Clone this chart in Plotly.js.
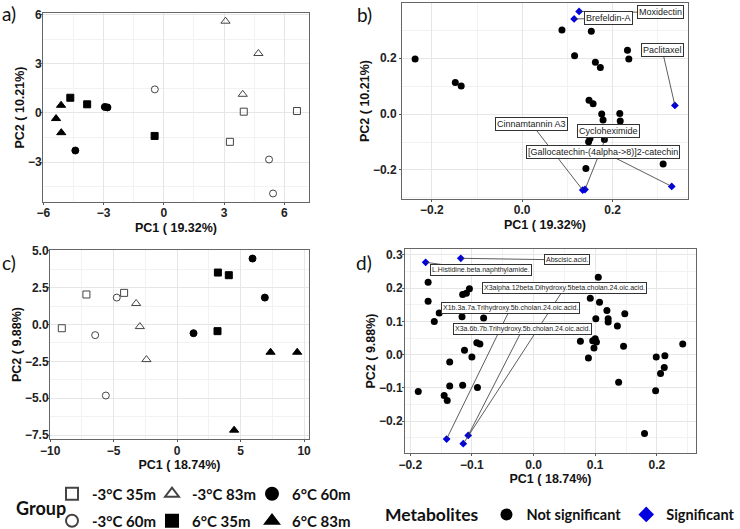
<!DOCTYPE html>
<html>
<head>
<meta charset="utf-8">
<script src="https://cdn.plot.ly/plotly-3.0.1.min.js"></script>
<style>
  body { margin: 0; background: #fff; }
  #chart { width: 740px; height: 529px; }
</style>
</head>
<body>
<div id="chart"></div>
<script>
// ---- data ----
// groups (same order in panels a and c)
const groupNames = ["-3°C 35m", "-3°C 83m", "6°C 60m", "-3°C 60m", "6°C 35m", "6°C 83m"];

// a) PCA scores, PC1 (19.32%) / PC2 (10.21%)
const aX = [
  [3.98, 6.63, 3.29],
  [3.07, 4.71, 3.93],
  [-2.94, -2.81, -4.41],
  [-0.45, 5.24, 5.44],
  [-4.66, -3.82, -0.46],
  [-5.12, -5.37, -5.11]
];
const aY = [
  [0.08, 0.12, -1.76],
  [5.6, 3.63, 1.14],
  [0.37, 0.34, -2.29],
  [1.44, -2.84, -4.91],
  [0.93, 0.53, -1.4],
  [0.47, -0.34, -1.2]
];

// c) PCA scores, PC1 (18.74%) / PC2 (9.88%)
const cX = [
  [-7.15, -4.18, -9.09],
  [-3.23, -2.94, -2.42],
  [5.94, 6.91, 1.29],
  [-4.76, -6.46, -5.62],
  [3.21, 4.07, 3.18],
  [7.36, 9.46, 4.49]
];
const cY = [
  [2.04, 2.15, -0.25],
  [1.43, -0.14, -2.38],
  [4.48, 1.83, -0.59],
  [1.83, -0.72, -4.82],
  [3.53, 3.35, -0.45],
  [-1.88, -1.88, -7.17]
];

// b) loadings
const bNsX = [-0.237, -0.148, -0.135, 0.088, 0.153, 0.116, 0.162, 0.173, 0.233, 0.236,
  0.148, 0.157, 0.176, 0.179, 0.216, 0.217, 0.150, 0.147, 0.182, 0.141, 0.312];
const bNsY = [0.197, 0.113, 0.101, 0.301, 0.297, 0.209, 0.186, 0.167, 0.229, 0.197,
  0.050, 0.037, 0.0, -0.021, 0.002, -0.025, -0.087, -0.099, -0.091, -0.195, -0.179];
const bSigNames = ["Moxidectin", "Brefeldin-A", "Paclitaxel", "Cinnamtannin A3", "Cycloheximide",
  "[Gallocatechin-(4alpha->8)]2-catechin"];
const bSigX = [0.126, 0.115, 0.338, 0.134, 0.139, 0.331];
const bSigY = [0.368, 0.341, 0.031, -0.272, -0.270, -0.259];

// d) loadings
const dNsX = [-0.171, -0.171, -0.161, -0.153, -0.116, -0.115, -0.109, -0.104, -0.116, -0.081,
  -0.112, -0.100, -0.092, -0.087, -0.136, -0.187, -0.145, -0.140, -0.136, -0.115, -0.091,
  0.105, 0.092, 0.107, 0.101, 0.119, 0.121, 0.121, 0.148, 0.136, 0.076, 0.096, 0.100,
  0.102, 0.098, 0.089, 0.146, 0.138, 0.242, 0.199, 0.213, 0.212, 0.206, 0.198, 0.180];
const dNsY = [0.218, 0.161, 0.100, 0.125, 0.133, 0.181, 0.185, 0.198, 0.114, 0.110,
  0.013, -0.007, 0.036, 0.032, -0.022, -0.111, -0.123, -0.138, -0.094, -0.092, -0.099,
  0.233, 0.170, 0.158, 0.108, 0.133, 0.108, 0.098, 0.123, 0.086, 0.040, 0.042, 0.048,
  0.038, 0.020, -0.010, 0.025, -0.083, 0.032, -0.007, -0.003, -0.039, -0.057, -0.109, -0.237];
const dSigNames = ["Abscisic.acid.", "L.Histidine.beta.naphthylamide.",
  "X3alpha.12beta.Dihydroxy.5beta.cholan.24.oic.acid.",
  "X1b.3a.7a.Trihydroxy.5b.cholan.24.oic.acid.",
  "X3a.6b.7b.Trihydroxy.5b.cholan.24.oic.acid."];
const dSigX = [-0.118, -0.175, -0.114, -0.141, -0.106];
const dSigY = [0.290, 0.278, -0.268, -0.254, -0.243];

// ---- styling ----
const symbols = ["square-open", "triangle-up-open", "circle", "circle-open", "square", "triangle-up"];
const symSize = [7, 8, 7, 7, 7, 8];
const grpLegend = ["legend", "legend", "legend", "legend2", "legend2", "legend2"];

const traces = [];
groupNames.forEach((name, i) => {
  const open = symbols[i].endsWith("open");
  const marker = {
    symbol: symbols[i], size: symSize[i],
    color: open ? "#444" : "#000",
    line: { color: open ? "#444" : "#000", width: 1 }
  };
  traces.push({ x: aX[i], y: aY[i], xaxis: "x", yaxis: "y", type: "scatter", mode: "markers",
    name: name, marker: marker, legend: grpLegend[i], showlegend: true });
  traces.push({ x: cX[i], y: cY[i], xaxis: "x3", yaxis: "y3", type: "scatter", mode: "markers",
    name: name, marker: marker, showlegend: false });
});

const nsMarker = { symbol: "circle", size: 7, color: "#000" };
const sigMarker = { symbol: "diamond", size: 6, color: "#0000e0" };
traces.push({ x: bNsX, y: bNsY, xaxis: "x2", yaxis: "y2", type: "scatter", mode: "markers",
  name: "Not significant", marker: nsMarker, legend: "legend3" });
traces.push({ x: bSigX, y: bSigY, xaxis: "x2", yaxis: "y2", type: "scatter", mode: "markers",
  name: "Significant", marker: sigMarker, legend: "legend3" });
traces.push({ x: dNsX, y: dNsY, xaxis: "x4", yaxis: "y4", type: "scatter", mode: "markers",
  name: "Not significant", marker: nsMarker, showlegend: false });
traces.push({ x: dSigX, y: dSigY, xaxis: "x4", yaxis: "y4", type: "scatter", mode: "markers",
  name: "Significant", marker: sigMarker, showlegend: false });

// label box centres (data units) for the repelled labels
const bLabelPos = [[0.306, 0.364], [0.191, 0.343], [0.310, 0.229], [0.021, -0.036], [0.191, -0.060], [0.179, -0.135]];
const dLabelPos = [[0.054, 0.285], [-0.085, 0.255], [0.050, 0.200], [-0.037, 0.141], [-0.018, 0.076]];

const annotations = [];
function addLabels(names, xs, ys, pos, xa, ya, size) {
  names.forEach((t, i) => {
    annotations.push({
      text: t, x: xs[i], y: ys[i], xref: xa, yref: ya,
      ax: pos[i][0], ay: pos[i][1], axref: xa, ayref: ya,
      showarrow: true, arrowhead: 0, arrowwidth: 0.8, arrowcolor: "#333", standoff: 0,
      font: { family: "Arial, Liberation Sans", size: size, color: "#222" },
      bgcolor: "#fff", bordercolor: "#333", borderwidth: 1, borderpad: 1
    });
  });
}
addLabels(bSigNames, bSigX, bSigY, bLabelPos, "x2", "y2", 9);
addLabels(dSigNames, dSigX, dSigY, dLabelPos, "x4", "y4", 7);

// panel letters and legend heading
const letterFont = { family: "Lato, Open Sans", size: 19, color: "#111" };
[["a)", 0, 13, "left"], ["b)", 374, 14, "right"], ["c)", 0, 262, "left"], ["d)", 374, 262, "right"]]
  .forEach(([t, px, py, anc]) => {
    annotations.push({ text: t, xref: "paper", yref: "paper", x: px / 740, y: 1 - py / 529,
      xanchor: anc, yanchor: "middle", showarrow: false, font: letterFont });
  });
annotations.push({ text: "Group", xref: "paper", yref: "paper", x: 14 / 740, y: 1 - 508 / 529,
  xanchor: "left", yanchor: "middle", showarrow: false,
  font: { family: "Lato, Open Sans", size: 18, color: "#111", weight: 700 } });

const tickFont = { family: "Arial, Liberation Sans", size: 12, color: "#222", weight: "bold" };
const titleFont = { family: "Arial, Liberation Sans", size: 12.5, color: "#111", weight: "bold" };

function axis(domain, range, dtick, minor, fmt, title, anchor, standoff, labelOff) {
  return {
    domain: domain, range: range, anchor: anchor, autorange: false,
    dtick: dtick, tick0: 0, tickformat: fmt,
    showgrid: true, gridcolor: "#e6e6e6", gridwidth: 1,
    minor: { dtick: minor, tick0: 0, showgrid: true, gridcolor: "#f2f2f2", gridwidth: 1 },
    zeroline: false, showline: true, mirror: true, linecolor: "#666", linewidth: 1,
    ticks: "outside", ticklen: 2, tickcolor: "#555",
    tickfont: tickFont, ticklabelstandoff: labelOff, automargin: false,
    title: { text: title, font: titleFont, standoff: standoff }
  };
}

const legendFont = { family: "Lato, Open Sans", size: 15, color: "#111", weight: 700 };
const legendBase = {
  orientation: "h", xanchor: "left", yanchor: "middle", bgcolor: "rgba(0,0,0,0)",
  font: legendFont, itemsizing: "constant", itemclick: false, itemdoubleclick: false,
  tracegroupgap: 0
};

const layout = {
  width: 740, height: 529,
  margin: { l: 0, r: 0, t: 0, b: 0, autoexpand: false },
  paper_bgcolor: "#fff", plot_bgcolor: "#fff",
  showlegend: true,
  xaxis: axis([43 / 740, 309 / 740], [-6.02, 7.23], 3, 1.5, "d", "PC1 ( 19.32%)", "y", 3, -2),
  yaxis: axis([1 - 202 / 529, 1 - 13 / 529], [-5.43, 6.1], 3, 1.5, "d", "PC2 ( 10.21%)", "x", 0, -4),
  xaxis2: axis([402 / 740, 688 / 740], [-0.266, 0.367], 0.2, 0.1, ".1f", "PC1 ( 19.32%)", "y2", 3, -2),
  yaxis2: axis([1 - 199 / 529, 1 - 3 / 529], [-0.304, 0.398], 0.2, 0.1, ".1f", "PC2 ( 10.21%)", "x2", 0, 0),
  xaxis3: axis([50 / 740, 309 / 740], [-10.02, 10.39], 5, 2.5, "d", "PC1 ( 18.74%)", "y3", 2, -1),
  yaxis3: axis([1 - 439 / 529, 1 - 250 / 529], [-7.77, 5.06], 2.5, 1.25, ".1f", "PC2 ( 9.88%)", "x3", 0, -4),
  xaxis4: axis([405 / 740, 696 / 740], [-0.2085, 0.2635], 0.1, 0.05, ".1f", "PC1 ( 18.74%)", "y4", 1, -1),
  yaxis4: axis([1 - 453 / 529, 1 - 249 / 529], [-0.296, 0.318], 0.1, 0.05, ".1f", "PC2 ( 9.88%)", "x4", 0, -3),
  legend: Object.assign({}, legendBase, { x: 52 / 740, y: 1 - 494 / 529, entrywidth: 55 }),
  legend2: Object.assign({}, legendBase, { x: 52 / 740, y: 1 - 521 / 529, entrywidth: 55 }),
  legend3: Object.assign({}, legendBase, {
    x: 1, xanchor: "right", y: 1 - 515 / 529,
    font: Object.assign({}, legendFont, { size: 14.5 }),
    title: { text: "Metabolites", side: "left", font: { family: "Lato, Open Sans", size: 17.5, color: "#111", weight: 700 } }
  }),
  annotations: annotations
};

Plotly.newPlot("chart", traces, layout, { displayModeBar: false, staticPlot: true });
</script>
</body>
</html>
